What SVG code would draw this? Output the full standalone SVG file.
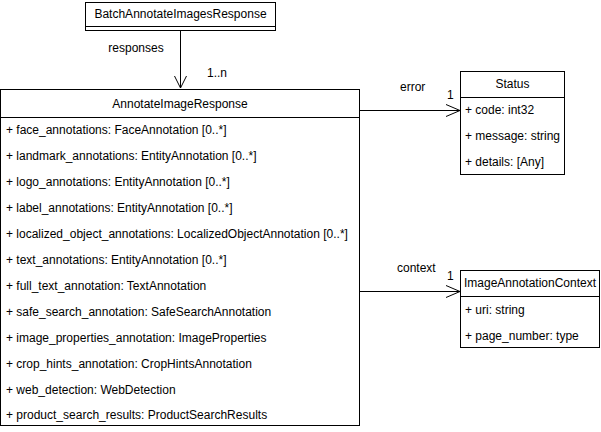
<svg xmlns="http://www.w3.org/2000/svg" width="601" height="432" viewBox="0 0 601 432">
<style>
text{font-family:"Liberation Sans",Arial,sans-serif;font-size:12px;fill:#000}
.c{text-anchor:middle}
.box{fill:#fff;stroke:#000;stroke-width:1}
.ln{stroke:#000;stroke-width:1;fill:none}
</style>
<rect width="601" height="432" fill="#fff"/>
<g id="connectors">
<path class="ln" d="M180.5 30 V88"/>
<path class="ln" d="M174.5 76 L180.5 88 L186.5 76"/>
<text class="c" x="136" y="52">responses</text>
<text x="207" y="77">1..n</text>
<path class="ln" d="M360 110.5 H460"/>
<path class="ln" d="M446 104.5 L460 110.5 L446 116.5"/>
<text x="400" y="91">error</text>
<text x="447" y="99">1</text>
<path class="ln" d="M360 291.5 H460"/>
<path class="ln" d="M446 285.5 L460 291.5 L446 297.5"/>
<text x="397" y="272">context</text>
<text x="447" y="280">1</text>
</g>
<g id="BatchAnnotateImagesResponse">
<rect class="box" x="85.5" y="2.5" width="190" height="28"/>
<path class="ln" d="M85.5 26.5 H275.5"/>
<text class="c" x="180.5" y="18">BatchAnnotateImagesResponse</text>
</g>
<g id="AnnotateImageResponse">
<rect class="box" x="0.5" y="89.5" width="359" height="336"/>
<path class="ln" d="M0.5 117.5 H359.5"/>
<text class="c" x="180" y="108">AnnotateImageResponse</text>
<text x="6" y="134">+ face_annotations: FaceAnnotation [0..*]</text>
<text x="6" y="160">+ landmark_annotations: EntityAnnotation [0..*]</text>
<text x="6" y="186">+ logo_annotations: EntityAnnotation [0..*]</text>
<text x="6" y="212">+ label_annotations: EntityAnnotation [0..*]</text>
<text x="6" y="238">+ localized_object_annotations: LocalizedObjectAnnotation [0..*]</text>
<text x="6" y="264">+ text_annotations: EntityAnnotation [0..*]</text>
<text x="6" y="290">+ full_text_annotation: TextAnnotation</text>
<text x="6" y="316">+ safe_search_annotation: SafeSearchAnnotation</text>
<text x="6" y="342">+ image_properties_annotation: ImageProperties</text>
<text x="6" y="368">+ crop_hints_annotation: CropHintsAnnotation</text>
<text x="6" y="394">+ web_detection: WebDetection</text>
<text x="6" y="419">+ product_search_results: ProductSearchResults</text>
</g>
<g id="Status">
<rect class="box" x="460.5" y="71.5" width="104" height="103"/>
<path class="ln" d="M460.5 97.5 H564.5"/>
<text class="c" x="512.5" y="88">Status</text>
<text x="465" y="114">+ code: int32</text>
<text x="465" y="140">+ message: string</text>
<text x="465" y="166">+ details: [Any]</text>
</g>
<g id="ImageAnnotationContext">
<rect class="box" x="460.5" y="270.5" width="139" height="77"/>
<path class="ln" d="M460.5 296.5 H599.5"/>
<text class="c" x="530" y="287">ImageAnnotationContext</text>
<text x="465" y="314">+ uri: string</text>
<text x="465" y="340">+ page_number: type</text>
</g>
</svg>
